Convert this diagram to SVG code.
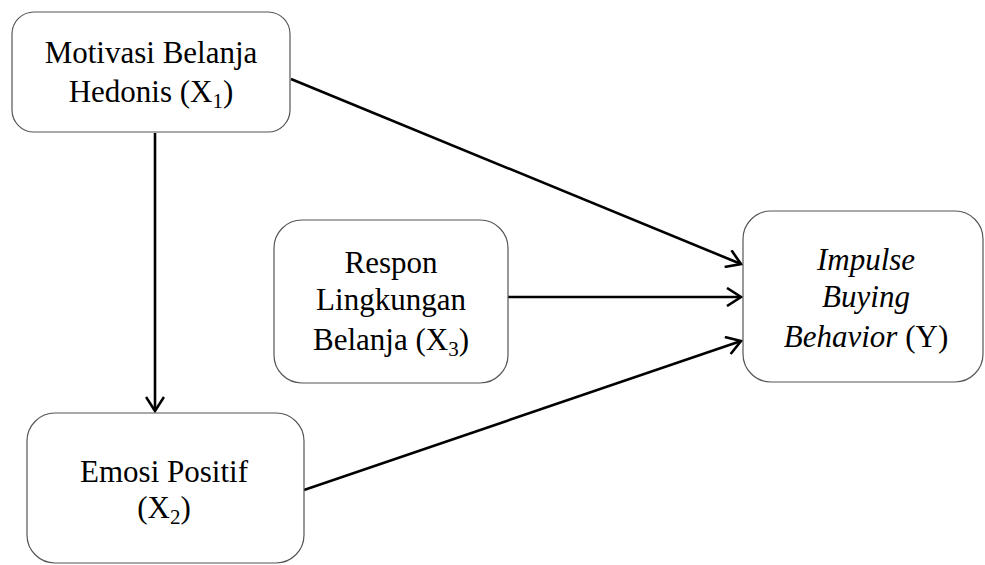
<svg xmlns="http://www.w3.org/2000/svg" width="985" height="565" viewBox="0 0 985 565">
<style>
.box{fill:#fff;stroke:#555;stroke-width:1.2}
.t{font-family:"Liberation Serif","Times New Roman",serif;font-size:31px;fill:#000;text-anchor:middle}
.i{font-style:italic}
.c{fill:none;stroke:#000;stroke-width:2.6}
</style>
<defs>
<marker id="ah" markerWidth="20" markerHeight="20" refX="18" refY="10" orient="auto" markerUnits="userSpaceOnUse">
<path d="M4,1 L18,10 L4,19" fill="none" stroke="#000" stroke-width="2.6"/>
</marker>
</defs>
<g id="connectors">
<line class="c" x1="291" y1="79" x2="741" y2="264" marker-end="url(#ah)"/>
<line class="c" x1="508" y1="297" x2="741" y2="297" marker-end="url(#ah)"/>
<line class="c" x1="304" y1="490" x2="741" y2="341" marker-end="url(#ah)"/>
<line class="c" x1="155" y1="133" x2="155" y2="411" marker-end="url(#ah)"/>
</g>
<g id="x1">
<rect class="box" x="12" y="12" width="278" height="120" rx="22"/>
<text class="t" x="151" y="63">Motivasi Belanja</text>
<text class="t" x="151" y="102">Hedonis (X<tspan font-size="21" dy="6">1</tspan><tspan dy="-6">)</tspan></text>
</g>
<g id="x3">
<rect class="box" x="274" y="220" width="234" height="163" rx="28"/>
<text class="t" x="391" y="273">Respon</text>
<text class="t" x="391" y="310">Lingkungan</text>
<text class="t" x="391" y="350">Belanja (X<tspan font-size="21" dy="6">3</tspan><tspan dy="-6">)</tspan></text>
</g>
<g id="y">
<rect class="box" x="743" y="211" width="240" height="171" rx="28"/>
<text class="t i" x="866" y="270">Impulse</text>
<text class="t i" x="866" y="307">Buying</text>
<text class="t" x="866" y="347"><tspan font-style="italic">Behavior</tspan> (Y)</text>
</g>
<g id="x2">
<rect class="box" x="27" y="413" width="277" height="150" rx="28"/>
<text class="t" x="164" y="482">Emosi Positif</text>
<text class="t" x="164" y="518">(X<tspan font-size="21" dy="6">2</tspan><tspan dy="-6">)</tspan></text>
</g>
</svg>
